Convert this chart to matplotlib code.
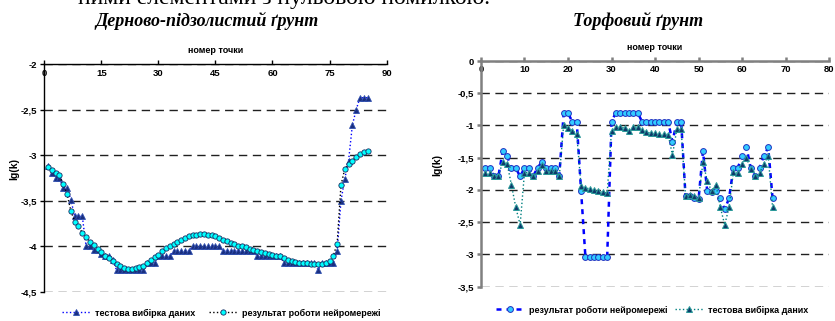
import numpy as np
import matplotlib.pyplot as plt
from matplotlib.ticker import FuncFormatter, MultipleLocator

# Дерново-підзолистий ґрунт
left_x = list(range(1, 86))
left_test = [-3.12, -3.19, -3.25, -3.25, -3.36, -3.36, -3.49, -3.67, -3.67, -3.67,
             -4.00, -4.00, -4.04, -4.04, -4.08, -4.11, -4.11, -4.15, -4.26, -4.26,
             -4.26, -4.26, -4.26, -4.26, -4.26, -4.26, -4.18, -4.18, -4.18, -4.11,
             -4.11, -4.11, -4.11, -4.05, -4.05, -4.05, -4.05, -4.05, -4.00, -4.00,
             -4.00, -4.00, -4.00, -4.00, -4.00, -4.00, -4.05, -4.05, -4.05, -4.05,
             -4.05, -4.05, -4.05, -4.05, -4.05, -4.11, -4.11, -4.11, -4.11, -4.11,
             -4.11, -4.11, -4.18, -4.18, -4.18, -4.18, -4.18, -4.18, -4.18, -4.18,
             -4.18, -4.26, -4.18, -4.18, -4.18, -4.18, -4.05, -3.50, -3.26, -3.06,
             -2.67, -2.50, -2.37, -2.37, -2.37]
left_net = [-3.13, -3.16, -3.19, -3.22, -3.32, -3.43, -3.61, -3.73, -3.78, -3.85,
            -3.90, -3.95, -3.98, -4.03, -4.06, -4.10, -4.13, -4.16, -4.19, -4.22,
            -4.24, -4.25, -4.25, -4.24, -4.23, -4.21, -4.18, -4.15, -4.12, -4.09,
            -4.05, -4.02, -3.99, -3.97, -3.95, -3.93, -3.91, -3.89, -3.88, -3.87,
            -3.86, -3.86, -3.87, -3.88, -3.89, -3.91, -3.93, -3.94, -3.96, -3.97,
            -3.99, -4.00, -4.01, -4.03, -4.04, -4.05, -4.06, -4.07, -4.08, -4.09,
            -4.10, -4.11, -4.13, -4.15, -4.16, -4.17, -4.18, -4.18, -4.18, -4.19,
            -4.19, -4.19, -4.19, -4.18, -4.16, -4.10, -3.97, -3.33, -3.15, -3.10,
            -3.06, -3.02, -2.99, -2.96, -2.95]

# Торфовий ґрунт
right_x = list(range(1, 68))
right_net = [-1.66, -1.66, -1.79, -1.79, -1.40, -1.47, -1.66, -1.66, -1.79, -1.66,
             -1.66, -1.78, -1.66, -1.56, -1.66, -1.66, -1.66, -1.78, -0.81, -0.81,
             -0.94, -0.94, -2.01, -3.04, -3.04, -3.04, -3.04, -3.04, -3.04, -0.94,
             -0.80, -0.80, -0.80, -0.80, -0.80, -0.80, -0.94, -0.94, -0.94, -0.94,
             -0.94, -0.94, -0.94, -1.25, -0.94, -0.94, -2.10, -2.10, -2.12, -2.14,
             -1.40, -2.02, -2.03, -2.02, -2.13, -2.30, -2.13, -1.66, -1.66, -1.47,
             -1.34, -1.66, -1.78, -1.66, -1.47, -1.34, -2.13]
right_test = [-1.74, -1.74, -1.79, -1.79, -1.56, -1.59, -1.92, -2.27, -2.54, -1.73,
              -1.73, -1.79, -1.71, -1.61, -1.71, -1.71, -1.71, -1.79, -0.99, -1.04,
              -1.08, -1.13, -1.94, -1.97, -1.98, -2.00, -2.02, -2.03, -2.05, -1.08,
              -1.02, -1.02, -1.04, -1.08, -1.03, -1.02, -1.07, -1.10, -1.12, -1.12,
              -1.13, -1.13, -1.14, -1.46, -1.06, -1.06, -2.09, -2.08, -2.10, -2.13,
              -1.57, -1.86, -2.02, -1.92, -2.27, -2.54, -2.27, -1.72, -1.74, -1.59,
              -1.51, -1.67, -1.79, -1.74, -1.59, -1.48, -2.27]

lbl_test = 'тестова вибірка даних'
lbl_net = 'результат роботи нейромережі'

plt.rcParams['font.family'] = 'Liberation Sans'
plt.rcParams['font.weight'] = 'bold'

comma = FuncFormatter(lambda v, p: f'{v:g}'.replace('.', ','))

fig = plt.figure(figsize=(8.35, 3.21), dpi=100)
ax1 = fig.add_axes([0.053, 0.0903, 0.410, 0.7103])
ax2 = fig.add_axes([0.576, 0.1069, 0.417, 0.703])


def style_axes(ax, spine_col, spine_w, pad):
    ax.xaxis.tick_top()
    ax.xaxis.set_label_position('top')
    for s in ['right', 'bottom']:
        ax.spines[s].set_visible(False)
    for s in ['left', 'top']:
        ax.spines[s].set_color(spine_col)
        ax.spines[s].set_linewidth(spine_w)
    ax.tick_params(axis='x', direction='out', length=3, width=spine_w,
                   color=spine_col, pad=pad, labelsize=6.8)
    ax.tick_params(axis='y', direction='out', length=3, width=spine_w,
                   color=spine_col, labelsize=6.8, pad=2)
    ax.yaxis.set_major_formatter(comma)
    ax.yaxis.grid(True, color='#202020', lw=1, linestyle=(0, (6, 4)))
    ax.set_axisbelow(True)


# left chart
ax1.plot(left_x, left_test, linestyle=':', color='#0000ff', lw=1,
         marker='^', ms=4.2, mfc='#1a2f80', mec='#3050b0', mew=0.6, label=lbl_test)
ax1.plot(left_x, left_net, linestyle=':', color='black', lw=1,
         marker='o', ms=3.8, mfc='#00ffff', mec='#1a2a60', mew=0.6, label=lbl_net)
ax1.set_xlim(0, 90)
ax1.set_ylim(-4.5, -2)
ax1.xaxis.set_major_locator(MultipleLocator(15))
ax1.yaxis.set_major_locator(MultipleLocator(0.5))
style_axes(ax1, 'black', 1.0, -13)
ax1.set_xlabel('номер точки', fontsize=6.5, fontweight='bold', labelpad=5)
ax1.set_ylabel('lg(k)', fontsize=7.5, fontweight='bold')
ax1.yaxis.set_label_coords(-0.072, 0.54)
ax1.legend(loc='center', bbox_to_anchor=(0.265, 0.025), bbox_transform=fig.transFigure,
           ncol=2, frameon=False, fontsize=6.5, handlelength=3.2, columnspacing=1.5,
           handletextpad=0.5)

# right chart
ax2.plot(right_x, right_net, linestyle=(0, (2, 2)), color='#0000ff', lw=1.8,
         marker='o', ms=4.2, mfc='#33ccff', mec='#2030c0', mew=0.7, label=lbl_net)
ax2.plot(right_x, right_test, linestyle=':', color='#008080', lw=1,
         marker='^', ms=4.5, mfc='#0f3a6a', mec='#2a9a9a', mew=0.7, label=lbl_test)
ax2.set_xlim(0, 80)
ax2.set_ylim(-3.5, 0)
ax2.xaxis.set_major_locator(MultipleLocator(10))
ax2.yaxis.set_major_locator(MultipleLocator(0.5))
style_axes(ax2, '#808080', 1.8, -12)
ax2.set_xlabel('номер точки', fontsize=6.5, fontweight='bold', labelpad=5)
ax2.set_ylabel('lg(k)', fontsize=7.5, fontweight='bold')
ax2.yaxis.set_label_coords(-0.112, 0.54)
ax2.legend(loc='center', bbox_to_anchor=(0.781, 0.034), bbox_transform=fig.transFigure,
           ncol=2, frameon=False, fontsize=6.5, handlelength=3.2, columnspacing=0.8,
           handletextpad=0.5)

# titles
fig.text(0.248, 0.935, 'Дерново-підзолистий ґрунт', ha='center', va='center',
         family='Liberation Serif', style='italic', fontweight='bold', fontsize=13)
fig.text(0.764, 0.935, 'Торфовий ґрунт', ha='center', va='center',
         family='Liberation Serif', style='italic', fontweight='bold', fontsize=13)
# cut-off line of the page text above
fig.text(0.34, 1 - 4 / 321, 'ними елементами з нульовою помилкою.', ha='center',
         va='baseline', family='Liberation Serif', fontweight='normal', fontsize=17)

fig.savefig('out.png', dpi=100)
